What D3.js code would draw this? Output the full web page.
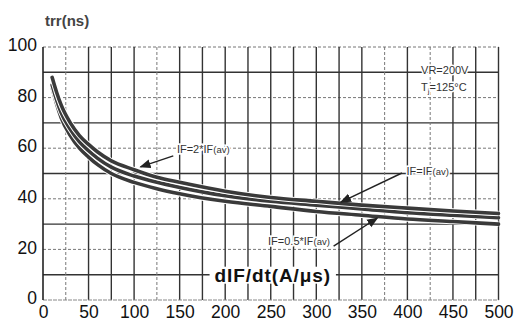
<!DOCTYPE html>
<html>
<head>
<meta charset="utf-8">
<script src="https://cdn.jsdelivr.net/npm/d3@7"></script>
<style>
  body { margin: 0; background: #fff; }
  svg { display: block; font-family: "Liberation Sans", Arial, sans-serif; }
</style>
</head>
<body>
<svg width="516" height="327"></svg>
<script>
// dIF/dt values (A/us)
const didt = [10, 15, 20, 30, 40, 50, 60, 75, 100, 125, 150, 200, 250, 300, 350, 400, 450, 500];
// trr (ns) for each IF condition
const trrIF2 = [88, 82, 77, 70, 65, 61.5, 58.5, 55, 51.5, 48.5, 46.5, 43, 40.5, 39, 37.5, 36.3, 35.2, 34.2];
const trrIF1 = [85, 79, 74, 67.5, 62.5, 59, 56, 52.5, 49, 46.5, 44.5, 41.2, 39, 37.5, 36, 34.5, 33.5, 32.5];
const trrIF05 = [84, 77.5, 72, 65, 60, 56.5, 53.5, 50, 46.5, 44, 42, 39, 37, 35, 33.5, 32, 31, 30];

const xTicks = [0, 50, 100, 150, 200, 250, 300, 350, 400, 450, 500];
const yTicks = [0, 20, 40, 60, 80, 100];
const xGrid = d3.range(25, 501, 25);
const xGridDotted = [25, 125, 375, 425];
const yGrid = d3.range(10, 101, 10);

// annotations: [label, sub, labelX, labelY, anchor, tailX, tailY, tipX, tipY]
const notes = [
  ["IF=2*IF", "(av)", 147, 58, "start", 143, 57, 107, 52.6],
  ["IF=IF", "(av)", 399, 49.6, "start", 394, 50.2, 327, 38.7],
  ["IF=0.5*IF", "(av)", 315, 21.8, "end", 319, 21.3, 367, 32.4]
];

const svg = d3.select("svg");
const x = d3.scaleLinear().domain([0, 500]).range([43, 498.5]);
const y = d3.scaleLinear().domain([0, 100]).range([300, 47]);

// grid - horizontal: odd tens solid, labelled tens dotted
svg.append("g").selectAll("line")
  .data(yGrid)
  .join("line")
  .attr("x1", x(0)).attr("x2", x(500))
  .attr("y1", d => y(d)).attr("y2", d => y(d))
  .attr("stroke", d => d % 20 === 0 ? "#777" : "#333")
  .attr("stroke-width", d => d % 20 === 0 ? 1 : 1.4)
  .attr("stroke-dasharray", d => d % 20 === 0 ? "3,2" : null);

svg.append("g").selectAll("line")
  .data(xGrid)
  .join("line")
  .attr("x1", d => x(d)).attr("x2", d => x(d))
  .attr("y1", y(0)).attr("y2", y(100))
  .attr("stroke", d => xGridDotted.includes(d) ? "#777" : "#333")
  .attr("stroke-width", d => xGridDotted.includes(d) ? 1 : 1.4)
  .attr("stroke-dasharray", d => xGridDotted.includes(d) ? "3,2" : null);

// bottom axis line (light) and left axis
svg.append("line")
  .attr("x1", x(0)).attr("x2", x(500))
  .attr("y1", y(0)).attr("y2", y(0))
  .attr("stroke", "#888").attr("stroke-dasharray", "4,1");
svg.append("line")
  .attr("x1", x(0)).attr("x2", x(0))
  .attr("y1", y(0)).attr("y2", y(100))
  .attr("stroke", "#222").attr("stroke-width", 1.6);

// axes labels via d3 axes (no domain / tick lines)
const xAxis = svg.append("g")
  .attr("transform", `translate(0,${y(0) + 4})`)
  .call(d3.axisBottom(x).tickValues(xTicks).tickSize(0).tickPadding(2));
const yAxis = svg.append("g")
  .attr("transform", `translate(${x(0) - 6},-2)`)
  .call(d3.axisLeft(y).tickValues(yTicks).tickSize(0).tickPadding(0));
[xAxis, yAxis].forEach(a => {
  a.select(".domain").remove();
  a.selectAll("text")
    .style("font-family", "Liberation Sans, Arial, sans-serif")
    .style("font-size", "17.5px")
    .attr("fill", "#111");
});

// curves
const line = d3.line()
  .x((d, i) => x(didt[i]))
  .y(d => y(d))
  .curve(d3.curveMonotoneX);
[trrIF05, trrIF1, trrIF2].forEach(s => {
  svg.append("path")
    .datum(s)
    .attr("d", line)
    .attr("fill", "none")
    .attr("stroke", "#fff")
    .attr("stroke-width", 5.5);
  svg.append("path")
    .datum(s)
    .attr("d", line)
    .attr("fill", "none")
    .attr("stroke", "#3a3a3a")
    .attr("stroke-width", 3.6)
    .attr("stroke-linecap", "round");
});

// annotation arrows
svg.append("defs").append("marker")
  .attr("id", "arr")
  .attr("viewBox", "0 0 10 10")
  .attr("refX", 9).attr("refY", 5)
  .attr("markerWidth", 8).attr("markerHeight", 8)
  .attr("orient", "auto")
  .append("path").attr("d", "M0,1 L10,5 L0,9 Z").attr("fill", "#222");

notes.forEach(n => {
  svg.append("line")
    .attr("x1", x(n[5])).attr("y1", y(n[6]))
    .attr("x2", x(n[7])).attr("y2", y(n[8]))
    .attr("stroke", "#222").attr("stroke-width", 1.4)
    .attr("marker-end", "url(#arr)");
  const t = svg.append("text")
    .attr("x", x(n[2])).attr("y", y(n[3]))
    .attr("text-anchor", n[4])
    .attr("font-size", 11)
    .attr("fill", "#333")
    .attr("stroke", "#fff").attr("stroke-width", 3).attr("paint-order", "stroke");
  t.append("tspan").text(n[0]);
  t.append("tspan").attr("font-size", 9.5).text(n[1]);
});

// conditions
svg.append("text")
  .attr("x", x(415)).attr("y", y(89.4))
  .attr("font-size", 11).attr("fill", "#333")
  .attr("stroke", "#fff").attr("stroke-width", 3).attr("paint-order", "stroke")
  .text("VR=200V");
const tj = svg.append("text")
  .attr("x", x(415)).attr("y", y(82.6))
  .attr("font-size", 11).attr("fill", "#333")
  .attr("stroke", "#fff").attr("stroke-width", 3).attr("paint-order", "stroke");
tj.append("tspan").text("T");
tj.append("tspan").attr("font-size", 8).attr("dy", 2).text("j");
tj.append("tspan").attr("dy", -2).text("=125°C");

// axis titles
svg.append("text")
  .attr("x", 45).attr("y", 26)
  .attr("font-size", 15).attr("font-weight", "bold")
  .attr("fill", "#444")
  .text("trr(ns)");

const xt = svg.append("text")
  .attr("x", x(250) + 2).attr("y", y(10) + 7)
  .attr("text-anchor", "middle")
  .attr("font-size", 19).attr("font-weight", "bold")
  .attr("letter-spacing", 0.9)
  .attr("fill", "#111")
  .text("dIF/dt(A/μs)");
const bb = xt.node().getBBox();
svg.insert("rect", () => xt.node())
  .attr("x", bb.x - 5).attr("y", bb.y + 2)
  .attr("width", bb.width + 10).attr("height", bb.height - 4)
  .attr("fill", "#fff");
</script>
</body>
</html>
